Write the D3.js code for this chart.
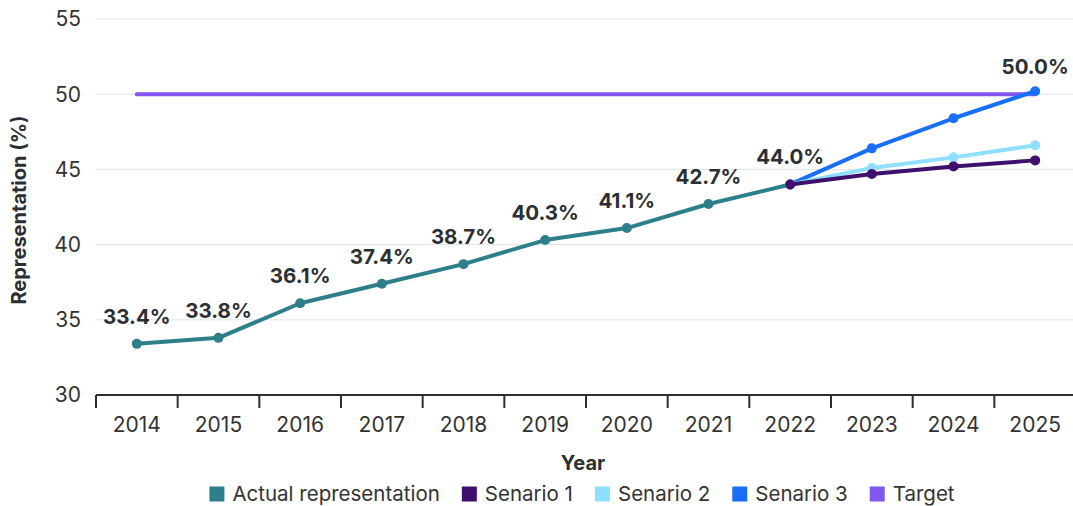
<!DOCTYPE html>
<html>
<head>
<meta charset="utf-8">
<script src="https://cdn.jsdelivr.net/npm/d3@7/dist/d3.min.js"></script>
<style>
  html, body { margin: 0; padding: 0; background: #fff; }
  svg { display: block; font-family: "Inter", "Liberation Sans", sans-serif; }
</style>
</head>
<body>
<svg id="chart" width="1073" height="506"></svg>
<script>
const years = ["2014","2015","2016","2017","2018","2019","2020","2021","2022","2023","2024","2025"];
const actual = [33.4, 33.8, 36.1, 37.4, 38.7, 40.3, 41.1, 42.7, 44.0, null, null, null];
const senario1 = [null, null, null, null, null, null, null, null, 44.0, 44.7, 45.2, 45.6];
const senario2 = [null, null, null, null, null, null, null, null, 44.0, 45.1, 45.8, 46.6];
const senario3 = [null, null, null, null, null, null, null, null, 44.0, 46.4, 48.4, 50.2];
const target = [50, 50, 50, 50, 50, 50, 50, 50, 50, 50, 50, 50];
const yTicks = [30, 35, 40, 45, 50, 55];

const series = [
  { name: "Target", values: target, color: "#8257ef", dots: false },
  { name: "Actual representation", values: actual, color: "#2d7f8a", dots: true },
  { name: "Senario 3", values: senario3, color: "#196ef6", dots: true },
  { name: "Senario 2", values: senario2, color: "#8fdfff", dots: true },
  { name: "Senario 1", values: senario1, color: "#3e0f6c", dots: true }
];
const legendOrder = ["Actual representation", "Senario 1", "Senario 2", "Senario 3", "Target"];

const svg = d3.select("#chart");
const W = 1073;
const left = 96;

const x = d3.scaleBand().domain(years).range([left, 1076]);
const y = d3.scaleLinear().domain([30, 55]).range([395, 19]);
const cx = d => x(d) + x.bandwidth() / 2;

// horizontal gridlines
svg.append("g").selectAll("line").data(yTicks.filter(t => t > 30)).join("line")
  .attr("x1", left).attr("x2", W)
  .attr("y1", d => y(d)).attr("y2", d => y(d))
  .attr("stroke", "#e1e5e8").attr("stroke-width", 1);

// y tick labels
svg.append("g").selectAll("text").data(yTicks).join("text")
  .attr("x", 81).attr("y", d => y(d)).attr("dy", "0.35em")
  .attr("text-anchor", "end").attr("font-size", 21).attr("fill", "#333")
  .text(d => d);

// x axis: ticks on band boundaries
const xAxis = svg.append("g").attr("transform", `translate(0,${y(30)})`);
xAxis.append("line").attr("x1", left).attr("x2", W).attr("y1", 0).attr("y2", 0)
  .attr("stroke", "#2b2f33").attr("stroke-width", 2);
xAxis.selectAll("line.tick").data(years).join("line").attr("class", "tick")
  .attr("x1", d => x(d)).attr("x2", d => x(d)).attr("y1", 0).attr("y2", 13)
  .attr("stroke", "#2b2f33").attr("stroke-width", 2);
xAxis.selectAll("text").data(years).join("text")
  .attr("x", d => cx(d)).attr("y", 30).attr("dy", "0.35em")
  .attr("text-anchor", "middle").attr("font-size", 21).attr("fill", "#333")
  .text(d => d);

// axis titles
svg.append("text").attr("x", 583).attr("y", 463).attr("dy", "0.35em")
  .attr("text-anchor", "middle").attr("font-size", 20).attr("font-weight", "bold").attr("fill", "#2b2f33")
  .text("Year");
svg.append("text").attr("transform", `translate(19,${y(42.3)}) rotate(-90)`).attr("dy", "0.35em")
  .attr("text-anchor", "middle").attr("font-size", 20).attr("font-weight", "bold").attr("fill", "#2b2f33")
  .text("Representation (%)");

// lines and markers
const line = d3.line().defined(d => d.v != null).x(d => cx(d.yr)).y(d => y(d.v));
series.forEach(s => {
  const pts = years.map((yr, i) => ({ yr, v: s.values[i] }));
  svg.append("path").datum(pts).attr("d", line)
    .attr("fill", "none").attr("stroke", s.color).attr("stroke-width", 4)
    .attr("stroke-linecap", "round").attr("stroke-linejoin", "round");
  if (s.dots) {
    svg.append("g").selectAll("circle").data(pts.filter(d => d.v != null)).join("circle")
      .attr("cx", d => cx(d.yr)).attr("cy", d => y(d.v)).attr("r", 5).attr("fill", s.color);
  }
});

// value labels
const labels = years.map((yr, i) => ({ yr, v: actual[i] })).filter(d => d.v != null);
labels.push({ yr: "2025", v: target[11] });
svg.append("g").selectAll("text").data(labels).join("text")
  .attr("x", d => cx(d.yr)).attr("y", d => y(d.v) - 20)
  .attr("text-anchor", "middle").attr("font-size", 20.5).attr("font-weight", "bold").attr("fill", "#2b2f33")
  .text(d => d.v.toFixed(1) + "%");

// legend, centred under the plot
const legend = svg.append("g").attr("transform", "translate(0,494)");
const items = [];
let lx = 0;
legendOrder.forEach(name => {
  const s = series.find(t => t.name === name);
  const g = legend.append("g");
  g.append("rect").attr("x", 0).attr("y", -7.5).attr("width", 15).attr("height", 15).attr("fill", s.color);
  const t = g.append("text").attr("x", 23).attr("y", 0).attr("dy", "0.35em")
    .attr("font-size", 20.5).attr("fill", "#333").text(name);
  items.push({ g, x: lx });
  lx += 23 + t.node().getComputedTextLength() + 22;
});
const totalW = lx - 22;
const start = 582 - totalW / 2;
items.forEach(it => it.g.attr("transform", `translate(${start + it.x},0)`));
</script>
</body>
</html>
